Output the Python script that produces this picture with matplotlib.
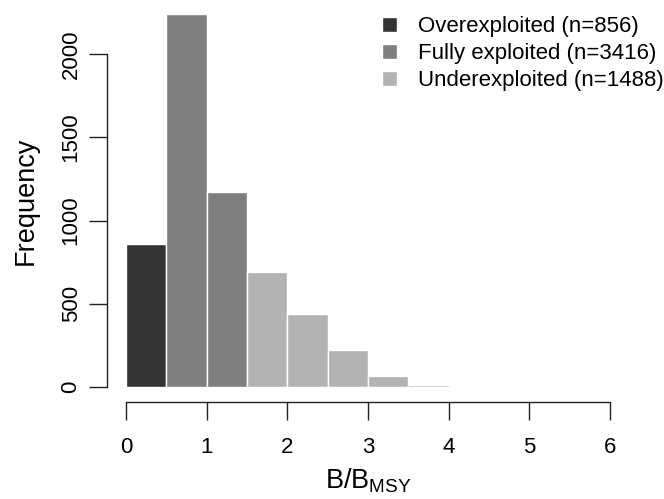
import matplotlib.pyplot as plt
import numpy as np
from matplotlib.patches import Patch

plt.rcParams['font.family'] = ['Liberation Sans', 'DejaVu Sans']
plt.rcParams['mathtext.fontset'] = 'custom'
plt.rcParams['mathtext.rm'] = 'Liberation Sans'
plt.rcParams['mathtext.it'] = 'Liberation Sans:italic'

# histogram of B/Bmsy, bins of 0.5
bin_left = [0.0, 0.5, 1.0, 1.5, 2.0, 2.5, 3.0, 3.5]
counts = [856, 2242, 1174, 692, 436, 222, 64, 14]
status = ["over", "fully", "fully", "under", "under", "under", "under", "under"]

status_names = ["Overexploited (n=856)", "Fully exploited (n=3416)", "Underexploited (n=1488)"]
status_keys = ["over", "fully", "under"]
status_cols = {"over": "#333333", "fully": "#7f7f7f", "under": "#b3b3b3"}

fig = plt.figure(figsize=(6.64, 4.99), dpi=100)
ax = fig.add_axes([106.6/664, 97/499, 522.8/664, 403.3/499])

cols = [status_cols[s] for s in status]
ax.bar(bin_left, counts, width=0.5, align="edge", color=cols, edgecolor="white", linewidth=1)

ymax = max(counts)
ax.set_xlim(-0.24, 6.24)
ax.set_ylim(-0.04*ymax, 1.04*ymax)

for s in ["top", "right"]:
    ax.spines[s].set_visible(False)
ax.spines["left"].set_bounds(0, 2000)
ax.spines["bottom"].set_bounds(0, 6)
for s in ["left", "bottom"]:
    ax.spines[s].set_color("#222222")
    ax.spines[s].set_linewidth(1)

ax.set_xticks(range(0, 7))
ax.set_yticks([0, 500, 1000, 1500, 2000])
ax.set_yticklabels(["0", "500", "1000", "1500", "2000"], rotation=90, va="center")
ax.tick_params(axis="x", length=13, width=1, color="#222222", labelsize=16, pad=12)
ax.tick_params(axis="y", length=13, width=1, color="#222222", labelsize=16, pad=5)

ax.set_xlabel(r"B/B$_{\mathrm{MSY}}$", fontsize=19.5, labelpad=6)
ax.set_ylabel("Frequency", fontsize=19.5, labelpad=16)

handles = [Patch(facecolor=status_cols[k], edgecolor="white") for k in status_keys]
ax.legend(handles, status_names, loc="upper left", bbox_to_anchor=(382/664, 1 - 16/499),
          bbox_transform=fig.transFigure,
          frameon=False, fontsize=16, handlelength=0.68, handleheight=0.68,
          handletextpad=0.95, labelspacing=0.28, borderaxespad=0, borderpad=0)

fig.savefig("out.png", dpi=100)
